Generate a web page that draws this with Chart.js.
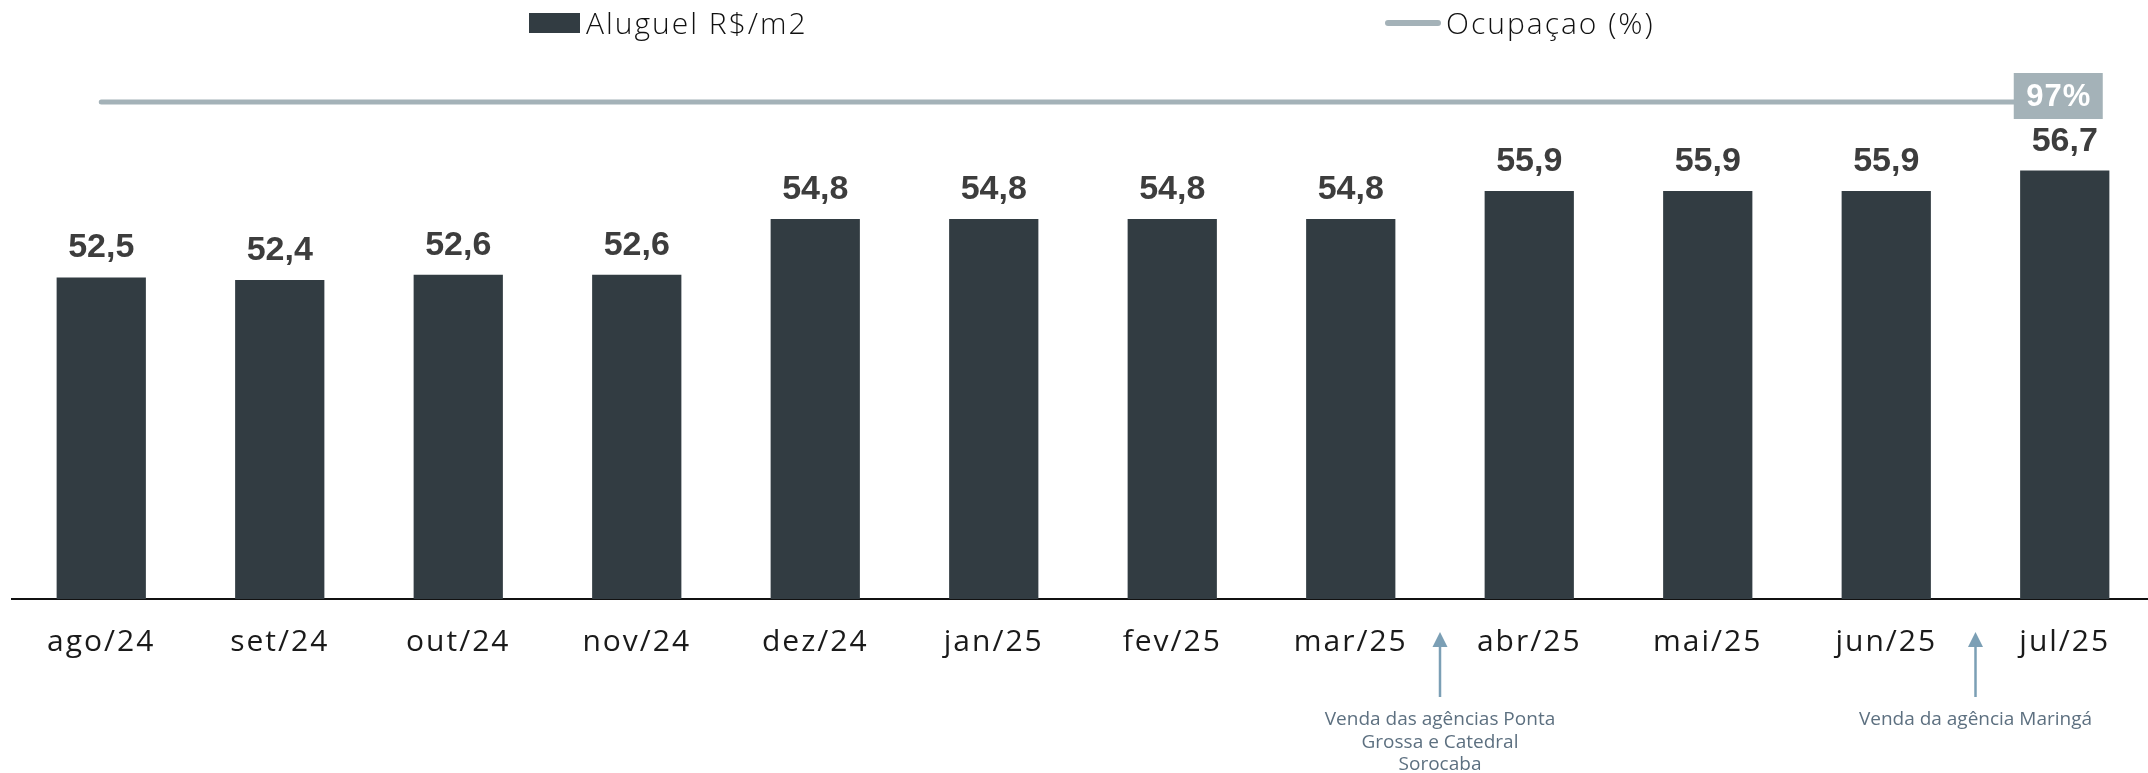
<!DOCTYPE html>
<html>
<head>
<meta charset="utf-8">
<script src="https://cdn.jsdelivr.net/npm/chart.js@4.4.1/dist/chart.umd.min.js"></script>
<style>
  html, body { margin: 0; padding: 0; background: #ffffff; overflow: hidden; }
  #wrap { width: 2156px; height: 773px; }
</style>
</head>
<body>
<div id="wrap"><canvas id="c" width="2156" height="773"></canvas></div>
<script>
// ---- data ----
const categories = ['ago/24','set/24','out/24','nov/24','dez/24','jan/25','fev/25','mar/25','abr/25','mai/25','jun/25','jul/25'];
const aluguel = [52.5, 52.4, 52.6, 52.6, 54.8, 54.8, 54.8, 54.8, 55.9, 55.9, 55.9, 56.7];
const ocupacao = [97, 97, 97, 97, 97, 97, 97, 97, 97, 97, 97, 97];
const seriesNames = ['Aluguel R$/m2', 'Ocupaçao (%)'];
const lastOcupacaoLabel = '97%';
const annotations = [
  { between: 7.5, lines: ['Venda das agências Ponta', 'Grossa e Catedral', 'Sorocaba'] },
  { between: 10.5, lines: ['Venda da agência Maringá'] }
];

const BAR_COLOR = '#323c42';
const LINE_COLOR = '#a4b2b8';
const LIGHT_FONT = '"Open Sans", "Noto Sans", sans-serif';
const BOLD_FONT = '"Liberation Sans", Arial, sans-serif';

const fmt = v => v.toFixed(1).replace('.', ',');

const overlayPlugin = {
  id: 'overlay',
  beforeDraw(chart) {
    chart.ctx.letterSpacing = '2px';   // for the x tick labels
  },
  beforeDatasetsDraw(chart) {
    chart.ctx.letterSpacing = '0px';
  },
  afterDatasetsDraw(chart) {
    const ctx = chart.ctx;
    ctx.letterSpacing = '0px';
    // bar value labels
    const barMeta = chart.getDatasetMeta(0);
    ctx.save();
    ctx.font = 'bold 34px ' + BOLD_FONT;
    ctx.fillStyle = '#3d3d3d';
    ctx.textAlign = 'center';
    ctx.textBaseline = 'alphabetic';
    barMeta.data.forEach((el, i) => {
      ctx.fillText(fmt(aluguel[i]), el.x, el.y - 20);
    });
    ctx.restore();

    // last occupancy box
    const lineMeta = chart.getDatasetMeta(1);
    const last = lineMeta.data[lineMeta.data.length - 1];
    ctx.save();
    ctx.fillStyle = LINE_COLOR;
    ctx.fillRect(last.x - 51, last.y - 29, 89, 46);
    ctx.fillStyle = '#ffffff';
    ctx.font = 'bold 31px ' + BOLD_FONT;
    ctx.letterSpacing = '1px';
    ctx.textAlign = 'center';
    ctx.textBaseline = 'middle';
    ctx.fillText(lastOcupacaoLabel, last.x - 6, last.y - 5);
    ctx.restore();
  },
  afterDraw(chart) {
    const ctx = chart.ctx;
    const x = chart.scales.x;
    // legend
    ctx.save();
    ctx.fillStyle = BAR_COLOR;
    ctx.fillRect(529, 13, 51, 20);
    ctx.fillStyle = '#111111';
    ctx.font = '300 30px ' + LIGHT_FONT;
    ctx.letterSpacing = '2px';
    ctx.textAlign = 'left';
    ctx.textBaseline = 'alphabetic';
    ctx.fillText(seriesNames[0], 586, 34);
    ctx.strokeStyle = LINE_COLOR;
    ctx.lineWidth = 6;
    ctx.lineCap = 'round';
    ctx.beginPath();
    ctx.moveTo(1388, 23);
    ctx.lineTo(1438, 23);
    ctx.stroke();
    ctx.fillText(seriesNames[1], 1446, 34);
    ctx.restore();

    // annotations
    annotations.forEach(a => {
      const px = x.getPixelForValue(a.between);
      ctx.save();
      ctx.letterSpacing = '0px';
      ctx.strokeStyle = '#7b9fb5';
      ctx.fillStyle = '#7b9fb5';
      ctx.lineWidth = 2.5;
      ctx.beginPath();
      ctx.moveTo(px, 645);
      ctx.lineTo(px, 697);
      ctx.stroke();
      ctx.beginPath();
      ctx.moveTo(px, 632);
      ctx.lineTo(px - 7.5, 647);
      ctx.lineTo(px + 7.5, 647);
      ctx.closePath();
      ctx.fill();
      ctx.fillStyle = '#5d7080';
      ctx.font = '19px ' + LIGHT_FONT;
      ctx.textAlign = 'center';
      ctx.textBaseline = 'middle';
      a.lines.forEach((t, j) => ctx.fillText(t, px, 720 + j * 22.5));
      ctx.restore();
    });
  }
};

new Chart(document.getElementById('c'), {
  data: {
    labels: categories,
    datasets: [
      {
        type: 'bar',
        label: seriesNames[0],
        data: aluguel,
        backgroundColor: BAR_COLOR,
        borderWidth: 0,
        barPercentage: 0.5,
        categoryPercentage: 1.0,
        yAxisID: 'y'
      },
      {
        type: 'line',
        label: seriesNames[1],
        data: ocupacao,
        borderColor: LINE_COLOR,
        borderWidth: 5,
        borderCapStyle: 'round',
        pointRadius: 0,
        tension: 0,
        fill: false,
        yAxisID: 'y2'
      }
    ]
  },
  options: {
    responsive: false,
    devicePixelRatio: 1,
    animation: false,
    layout: { padding: { left: 12, right: 2, top: 60, bottom: 0 } },
    plugins: { legend: { display: false }, tooltip: { enabled: false }, title: { display: false } },
    scales: {
      x: {
        type: 'category',
        offset: true,
        grid: { display: false, drawTicks: false },
        border: { display: true, color: '#111111', width: 2 },
        ticks: { color: '#1a1a1a', padding: 25, font: { family: LIGHT_FONT, size: 30, weight: 400 }, maxRotation: 0, autoSkip: false },
        afterFit(s) { s.height = 174; }
      },
      y: { display: false, min: 39.85, max: 61.05 },
      y2: { display: false, min: 0, max: 105.2 }
    }
  },
  plugins: [overlayPlugin]
});
</script>
</body>
</html>
